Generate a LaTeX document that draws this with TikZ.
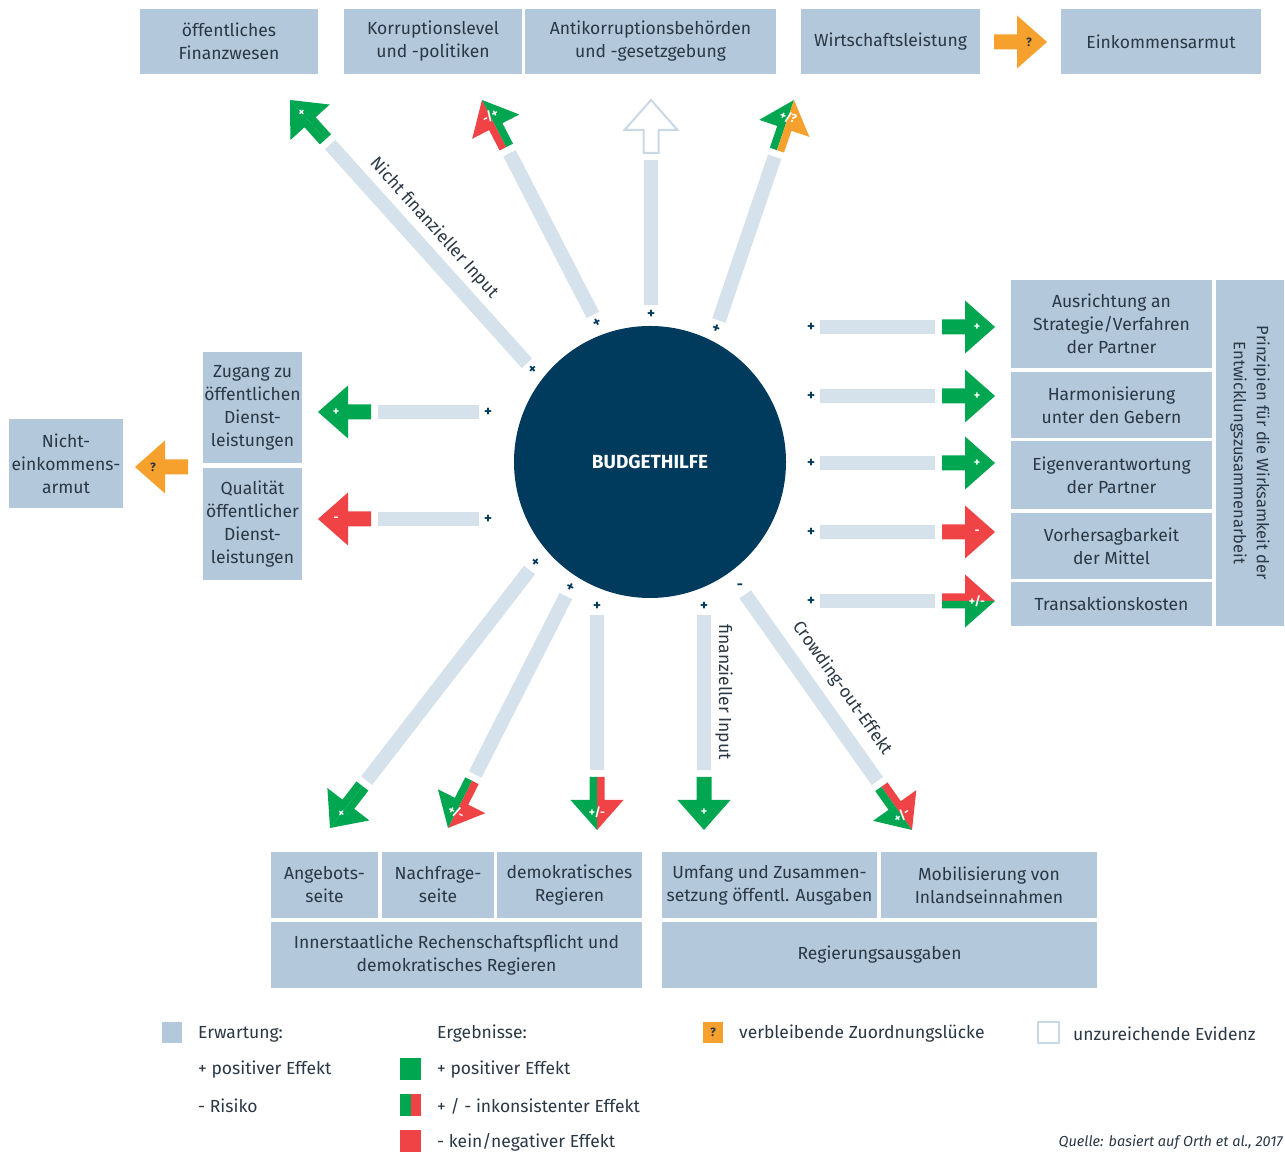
\documentclass[tikz,border=0pt]{standalone}
\usepackage{fontspec}
\setmainfont{Fira Sans}
\usetikzlibrary{calc}
\definecolor{boxc}{HTML}{B3C8DB}
\definecolor{barc}{HTML}{D5E1EB}
\definecolor{navy}{HTML}{003A5D}
\definecolor{grn}{HTML}{00A650}
\definecolor{rd}{HTML}{F04345}
\definecolor{org}{HTML}{F6A02E}
\definecolor{txt}{HTML}{2A3744}
\definecolor{evb}{HTML}{C9D8E5}
\tikzset{
 box/.style={fill=boxc, inner sep=0pt, align=center, text=txt, font=\fontsize{17.5}{23}\selectfont},
 expbar/.style={draw=barc, line width=14pt},
 marker/.style={text=navy, font=\bfseries\fontsize{15}{15}\selectfont, inner sep=0pt},
 reslabel/.style={text=white, font=\bfseries\fontsize{12}{12}\selectfont, inner sep=0pt},
 lab/.style={text=txt, font=\fontsize{17.5}{20}\selectfont, inner sep=0pt},
 leg/.style={text=txt, font=\fontsize{17.5}{20}\selectfont, anchor=west, inner sep=0pt},
}
\newcommand{\bx}[6]{\node[box, minimum width=#4pt, minimum height=#5pt] (#1) at (#2,#3) {#6};}
% expectation bar from marker node #1 to tip coordinate #2
\newcommand{\expar}[2]{\draw[expbar] ($(#1)!9pt!(#2)$) -- ($(#2)!60pt!(#1)$);}
% result arrow: #1 tip coord, #2 angle, #3 colour left half, #4 colour right half, #5 label, #6 label rotation
\newcommand{\resarr}[6]{%
 \begin{scope}[shift={(#1)}, rotate=#2]
  \fill[#3] (-53,0) -- (-53,7.5) -- (-30,7.5) -- (-30,26.5) -- (0,0) -- cycle;
  \fill[#4] (-53,0) -- (-53,-7.5) -- (-30,-7.5) -- (-30,-26.5) -- (0,0) -- cycle;
  \node[reslabel, rotate=#6] at (-18,0) {#5};
 \end{scope}}
\begin{document}
\begin{tikzpicture}[x=1pt, y=1pt]
\useasboundingbox (0,0) rectangle (1285,1155);

% ---------- boxes ----------
\bx{fin}{229}{1113.5}{178}{65}{öffentliches\\Finanzwesen}
\bx{korr}{433}{1113.5}{178}{65}{Korruptionslevel\\und -politiken}
\bx{anti}{650.5}{1113.5}{251}{65}{Antikorruptionsbehörden\\und -gesetzgebung}
\bx{wirt}{890.5}{1113.5}{179}{65}{Wirtschaftsleistung}
\bx{eink}{1161}{1113.5}{200}{65}{Einkommensarmut}

\bx{r1}{1111.5}{831}{201}{88}{Ausrichtung an\\Strategie/Verfahren\\der Partner}
\bx{r2}{1111.5}{750}{201}{66}{Harmonisierung\\unter den Gebern}
\bx{r3}{1111.5}{680}{201}{68}{Eigenverantwortung\\der Partner}
\bx{r4}{1111.5}{609}{201}{66}{Vorhersagbarkeit\\der Mittel}
\bx{r5}{1111.5}{551}{201}{44}{Transaktionskosten}
\bx{prin}{1250}{702}{68}{346}{}
\node[text=txt, align=center, rotate=-90, font=\fontsize{16.5}{23}\selectfont, inner sep=0pt] (printxt) at (prin) {Prinzipien für die Wirksamkeit der\\Entwicklungszusammenarbeit};

\bx{zug}{252.5}{747.5}{99}{111}{Zugang zu\\öffentlichen\\Dienst-\\leistungen}
\bx{qual}{252.5}{631}{99}{112}{Qualität\\öffentlicher\\Dienst-\\leistungen}
\bx{nie}{66}{691.5}{114}{89}{Nicht-\\einkommens-\\armut}

\bx{ang}{324.5}{270}{107}{66}{Angebots-\\seite}
\bx{nach}{438}{270}{112}{66}{Nachfrage-\\seite}
\bx{dem}{569.5}{270}{145}{66}{demokratisches\\Regieren}
\bx{inn}{456.5}{200}{371}{66}{Innerstaatliche Rechenschaftspflicht und\\demokratisches Regieren}
\bx{umf}{769.5}{270}{215}{66}{Umfang und Zusammen-\\setzung öffentl. Ausgaben}
\bx{mob}{989}{270}{216}{66}{Mobilisierung von\\Inlandseinnahmen}
\bx{reg}{879.5}{200}{435}{66}{Regierungsausgaben}

% ---------- circle ----------
\node[circle, fill=navy, minimum size=272pt, inner sep=0pt, text=white, font=\bfseries\fontsize{19}{19}\selectfont] (bh) at (650,693) {BUDGETHILFE};

% ---------- markers and tips ----------
\node[marker, rotate=42] (A1m) at (533,785) {+};
\node[marker, rotate=27] (A2m) at (597,832) {+};
\node[marker] (A3m) at (651,841) {+};
\node[marker, rotate=-19] (A4m) at (716,826) {+};
\coordinate (A1t) at (290,1055);
\coordinate (A2t) at (482,1055);
\coordinate (A3t) at (651,1055);
\coordinate (A4t) at (794,1055);

\foreach \i/\y in {1/828, 2/759, 3/692, 4/623, 5/554}{
  \node[marker] (R\i m) at (811,\y) {+};
  \coordinate (R\i t) at (995,\y);
}
\node[marker] (L1m) at (488,743) {+};
\node[marker] (L2m) at (488,636) {+};
\coordinate (L1t) at (318,743);
\coordinate (L2t) at (318,636);

\node[marker, rotate=-38] (B1m) at (535,592) {+};
\node[marker, rotate=-27] (B2m) at (570,567) {+};
\node[marker] (B3m) at (597,549) {+};
\node[marker] (B4m) at (704,549) {+};
\node[marker] (B5m) at (740,568) {-};
\coordinate (B1t) at (330,327);
\coordinate (B2t) at (448,327);
\coordinate (B3t) at (597,325);
\coordinate (B4t) at (704,325);
\coordinate (B5t) at (912,325);

\coordinate (O1t) at (135,688);
\coordinate (O2t) at (1047,1113);

% ---------- expectation bars ----------
\expar{A1m}{A1t}
\expar{A2m}{A2t}
\expar{A3m}{A3t}
\expar{A4m}{A4t}
\foreach \i in {1,...,5}{\expar{R\i m}{R\i t}}
\expar{L1m}{L1t}
\expar{L2m}{L2t}
\expar{B1m}{B1t}
\expar{B2m}{B2t}
\expar{B3m}{B3t}
\expar{B4m}{B4t}
\expar{B5m}{B5t}

% ---------- result arrows ----------
\resarr{A1t}{132}{grn}{grn}{+}{42}
\resarr{A2t}{117.3}{rd}{grn}{-/+}{27}
\begin{scope}[shift={(A3t)}, rotate=90]
  \draw[draw=evb, fill=white, line width=2pt] (-53,7.5) -- (-30,7.5) -- (-30,26.5) -- (0,0) -- (-30,-26.5) -- (-30,-7.5) -- (-53,-7.5) -- cycle;
\end{scope}
\resarr{A4t}{71.2}{grn}{org}{+/?}{-19}

\resarr{R1t}{0}{grn}{grn}{+}{0}
\resarr{R2t}{0}{grn}{grn}{+}{0}
\resarr{R3t}{0}{grn}{grn}{+}{0}
\resarr{R4t}{0}{rd}{rd}{-}{0}
\resarr{R5t}{0}{rd}{grn}{+/-}{0}

\resarr{L1t}{180}{grn}{grn}{+}{0}
\resarr{L2t}{180}{rd}{rd}{-}{0}

\resarr{B1t}{232.3}{grn}{grn}{+}{-38}
\resarr{B2t}{243.1}{rd}{grn}{+/-}{-27}
\resarr{B3t}{270}{rd}{grn}{+/-}{0}
\resarr{B4t}{270}{grn}{grn}{+}{0}
\resarr{B5t}{305.3}{rd}{grn}{+/-}{35}

\resarr{O1t}{180}{org}{org}{\textcolor{txt}{?}}{0}
\resarr{O2t}{0}{org}{org}{\textcolor{txt}{?}}{0}

% ---------- arrow labels ----------
\node[lab, rotate=-48] (nfi) at (434,927) {Nicht finanzieller Input};
\node[lab, rotate=-90] (fi) at (724,463) {finanzieller Input};
\node[lab, rotate=-54.7] (coe) at (842,467) {Crowding-out-Effekt};

% ---------- legend ----------
\fill[boxc] (162,112) rectangle (182,133);
\node[leg] (l1) at (198,121) {Erwartung:};
\node[leg] (l2) at (198,85) {+ positiver Effekt};
\node[leg] (l3) at (198,49) {- Risiko};
\node[leg] (l4) at (437,121) {Ergebnisse:};
\fill[grn] (400,75) rectangle (421,97);
\node[leg] (l5) at (437,85) {+ positiver Effekt};
\fill[grn] (400,39) rectangle (410.5,61);
\fill[rd] (410.5,39) rectangle (421,61);
\node[leg] (l6) at (437,49) {+ / - inkonsistenter Effekt};
\fill[rd] (400,3) rectangle (421,25);
\node[leg] (l7) at (437,13) {- kein/negativer Effekt};
\fill[org] (703,112) rectangle (723,133);
\node[text=txt, font=\bfseries\fontsize{12}{12}\selectfont, inner sep=0pt] (lq) at (713,122.5) {?};
\node[leg] (l8) at (739,121) {verbleibende Zuordnungslücke};
\draw[evb, line width=1.5pt, fill=white] (1038,112) rectangle (1059,133);
\node[leg] (l9) at (1073,121) {unzureichende Evidenz};
\node[text=txt, font=\itshape\fontsize{14.5}{16}\selectfont, anchor=east, inner sep=0pt] (src) at (1283,13) {Quelle: basiert auf Orth et al., 2017};
\end{tikzpicture}
\end{document}
